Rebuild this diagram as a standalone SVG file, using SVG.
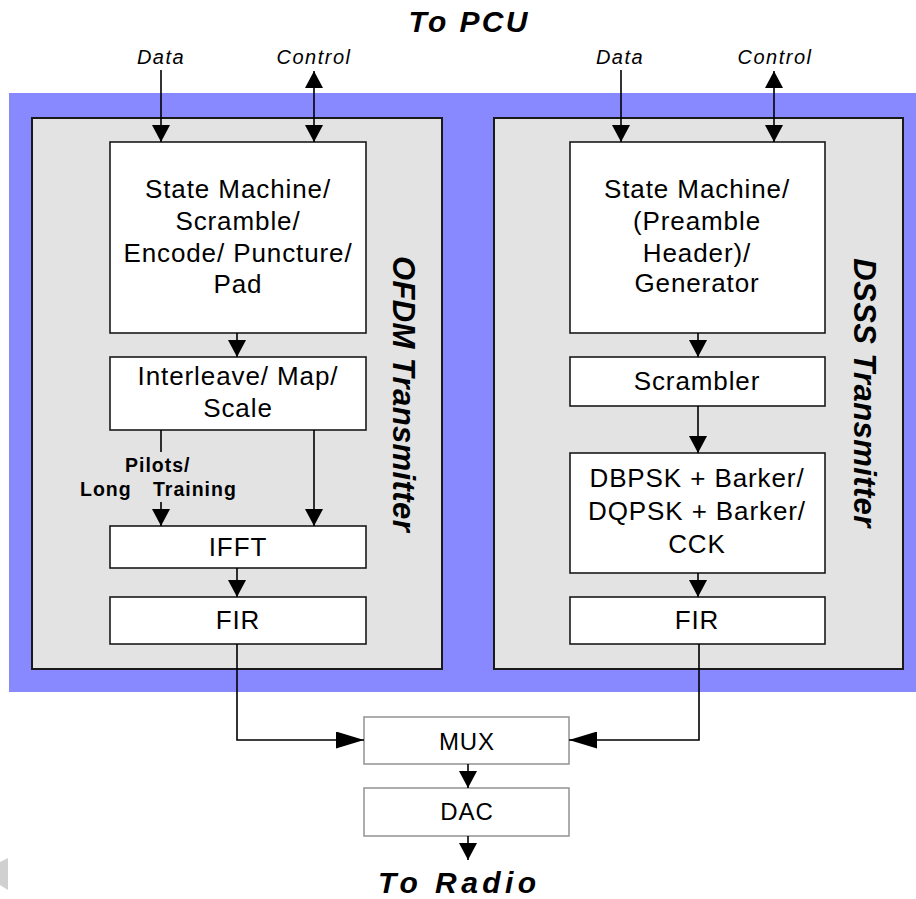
<svg xmlns="http://www.w3.org/2000/svg" width="916" height="899" viewBox="0 0 916 899">
  <style>
    .band { fill: #8888FF; }
    .panel { fill: #E3E3E3; stroke: #1a1a1a; stroke-width: 2; }
    .box { fill: #FFFFFF; stroke: #1a1a1a; stroke-width: 1.6; }
    .gbox { fill: #FFFFFF; stroke: #999999; stroke-width: 1.6; }
    .wire { fill: none; stroke: #000000; stroke-width: 1.6; }
    text { font-family: "Liberation Sans", Arial, sans-serif; fill: #000000; }
    .lbl { font-size: 26px; letter-spacing: 0.9px; text-anchor: middle; }
    .io { font-size: 20px; font-style: italic; letter-spacing: 1.5px; text-anchor: middle; }
    .title { font-size: 30px; font-style: italic; font-weight: bold; text-anchor: middle; }
    .side { font-size: 31px; font-style: italic; font-weight: bold; letter-spacing: 0.4px; text-anchor: middle; }
    .note { font-size: 19.5px; font-weight: bold; letter-spacing: 1px; }
  </style>
  <defs>
    <marker id="ah" viewBox="0 0 17 18" refX="17" refY="9" markerWidth="17" markerHeight="18" markerUnits="userSpaceOnUse" orient="auto-start-reverse">
      <path d="M0,0 L17,9 L0,18 Z" fill="#000000"/>
    </marker>
    <marker id="ahLong" viewBox="0 0 28 17" refX="28" refY="8.5" markerWidth="28" markerHeight="17" markerUnits="userSpaceOnUse" orient="auto">
      <path d="M0,0 L28,8.5 L0,17 Z" fill="#000000"/>
    </marker>
  </defs>

  <!-- background band and transmitter panels -->
  <rect class="band" x="9" y="93" width="907" height="599"/>
  <polygon points="0,862 8,858 8,890 0,885" fill="#D0D0D0"/>

  <g id="ofdm-panel">
    <rect class="panel" x="32" y="118" width="410" height="551"/>
    <text class="side" transform="translate(393,394) rotate(90)">OFDM Transmitter</text>
  </g>
  <g id="dsss-panel">
    <rect class="panel" x="494" y="118" width="409" height="551"/>
    <text class="side" transform="translate(854,393) rotate(90)">DSSS Transmitter</text>
  </g>

  <!-- titles -->
  <text class="title" x="468" y="32" textLength="119" lengthAdjust="spacing">To PCU</text>
  <text class="title" x="457" y="893" textLength="158" lengthAdjust="spacing">To Radio</text>

  <!-- interface labels -->
  <text class="io" x="161" y="64">Data</text>
  <text class="io" x="314" y="64">Control</text>
  <text class="io" x="620" y="64">Data</text>
  <text class="io" x="775" y="64">Control</text>

  <!-- OFDM chain -->
  <g id="ofdm-state">
    <rect class="box" x="110" y="142" width="256" height="191"/>
    <text class="lbl" x="238" y="198">State Machine/</text>
    <text class="lbl" x="238" y="230">Scramble/</text>
    <text class="lbl" x="238" y="262">Encode/ Puncture/</text>
    <text class="lbl" x="238" y="293">Pad</text>
  </g>
  <g id="ofdm-interleave">
    <rect class="box" x="110" y="357" width="256" height="73"/>
    <text class="lbl" x="238" y="385">Interleave/ Map/</text>
    <text class="lbl" x="238" y="417">Scale</text>
  </g>
  <g id="ofdm-pilots">
    <text class="note" x="125" y="472">Pilots/</text>
    <text class="note" x="80" y="496">Long</text>
    <text class="note" x="153" y="496">Training</text>
  </g>
  <g id="ofdm-ifft">
    <rect class="box" x="110" y="526" width="256" height="42"/>
    <text class="lbl" x="238" y="556">IFFT</text>
  </g>
  <g id="ofdm-fir">
    <rect class="box" x="110" y="597" width="256" height="47"/>
    <text class="lbl" x="238" y="629">FIR</text>
  </g>

  <!-- DSSS chain -->
  <g id="dsss-state">
    <rect class="box" x="570" y="142" width="255" height="191"/>
    <text class="lbl" x="697" y="198">State Machine/</text>
    <text class="lbl" x="697" y="230">(Preamble</text>
    <text class="lbl" x="697" y="262">Header)/</text>
    <text class="lbl" x="697" y="292">Generator</text>
  </g>
  <g id="dsss-scrambler">
    <rect class="box" x="570" y="357" width="255" height="49"/>
    <text class="lbl" x="697" y="390">Scrambler</text>
  </g>
  <g id="dsss-modulator">
    <rect class="box" x="570" y="453" width="255" height="120"/>
    <text class="lbl" x="697" y="487">DBPSK + Barker/</text>
    <text class="lbl" x="697" y="520">DQPSK + Barker/</text>
    <text class="lbl" x="697" y="553">CCK</text>
  </g>
  <g id="dsss-fir">
    <rect class="box" x="570" y="597" width="255" height="47"/>
    <text class="lbl" x="697" y="629">FIR</text>
  </g>

  <!-- output stage -->
  <g id="mux">
    <rect class="gbox" x="364" y="717" width="205" height="47"/>
    <text class="lbl" x="467" y="750" style="font-size:24px">MUX</text>
  </g>
  <g id="dac">
    <rect class="gbox" x="364" y="788" width="205" height="48"/>
    <text class="lbl" x="467" y="820" style="font-size:24px">DAC</text>
  </g>

  <!-- connectors -->
  <g id="connectors">
    <line class="wire" x1="161" y1="70" x2="161" y2="142" marker-end="url(#ah)"/>
    <line class="wire" x1="314" y1="71" x2="314" y2="142" marker-start="url(#ah)" marker-end="url(#ah)"/>
    <line class="wire" x1="621" y1="70" x2="621" y2="142" marker-end="url(#ah)"/>
    <line class="wire" x1="774" y1="71" x2="774" y2="142" marker-start="url(#ah)" marker-end="url(#ah)"/>

    <line class="wire" x1="237" y1="333" x2="237" y2="357" marker-end="url(#ah)"/>
    <line class="wire" x1="161" y1="430" x2="161" y2="452"/>
    <line class="wire" x1="161" y1="502" x2="161" y2="526" marker-end="url(#ah)"/>
    <line class="wire" x1="314" y1="430" x2="314" y2="526" marker-end="url(#ah)"/>
    <line class="wire" x1="237" y1="568" x2="237" y2="597" marker-end="url(#ah)"/>

    <line class="wire" x1="698" y1="333" x2="698" y2="357" marker-end="url(#ah)"/>
    <line class="wire" x1="698" y1="406" x2="698" y2="453" marker-end="url(#ah)"/>
    <line class="wire" x1="698" y1="573" x2="698" y2="597" marker-end="url(#ah)"/>

    <polyline class="wire" points="237,644 237,740 364,740" marker-end="url(#ahLong)"/>
    <polyline class="wire" points="699,644 699,740 569,740" marker-end="url(#ahLong)"/>
    <line class="wire" x1="468" y1="764" x2="468" y2="788" marker-end="url(#ah)"/>
    <line class="wire" x1="468" y1="836" x2="468" y2="860" marker-end="url(#ah)"/>
  </g>
</svg>
